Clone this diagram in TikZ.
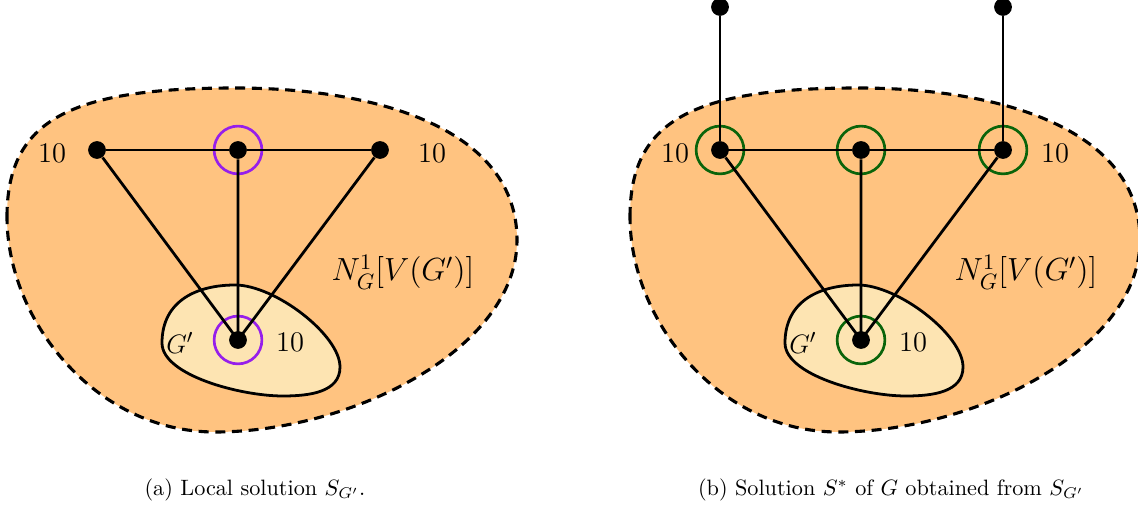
\documentclass[tikz,border=0pt]{standalone}
\usepackage{amsmath,amssymb}
\definecolor{nbhd}{RGB}{255,195,128}
\definecolor{subg}{RGB}{253,228,178}
\definecolor{solpurple}{RGB}{150,30,235}
\definecolor{solgreen}{RGB}{10,100,10}
\newcommand{\outerblob}{(7,217) .. controls (7,120) and (70,88) .. (235,88)
  .. controls (380,88) and (517,130) .. (517,240)
  .. controls (517,350) and (350,432) .. (215,432)
  .. controls (95,432) and (7,320) .. cycle}
\newcommand{\innerblob}{(235,285) .. controls (275,285) and (340,335) .. (340,367)
  .. controls (340,392) and (310,396) .. (283,396)
  .. controls (240,396) and (162,375) .. (162,343)
  .. controls (162,300) and (198,285) .. cycle}

\begin{document}
\begin{tikzpicture}[x=0.45pt,y=-0.45pt,
  vert/.style={circle,fill=black,inner sep=0pt,minimum size=8pt},
  ring/.style={circle,draw,line width=1.2pt,inner sep=0pt,minimum size=21.5pt},
  edge/.style={line width=1.25pt},
  wt/.style={font=\fontsize{12.8}{15}\selectfont,inner sep=0pt},
  setlabel/.style={font=\fontsize{14}{17}\selectfont,inner sep=0pt}]
\useasboundingbox (0,0) rectangle (1138,509);

% (a) local solution
\begin{scope}
\draw[fill=nbhd,line width=1.4pt,dash pattern=on 4.5pt off 3pt] \outerblob;
\draw[fill=subg,line width=1.25pt] \innerblob;
\node[ring,solpurple] (aMr) at (238,150) {};
\node[ring,solpurple] (aGr) at (238,340) {};
\node[vert] (aL) at (97,150) {};
\node[vert] (aM) at (238,150) {};
\node[vert] (aR) at (380,150) {};
\node[vert] (aG) at (238,340) {};
\draw[edge] (aL) -- (aM) -- (aR);
\draw[edge] (aL) -- (aG.center) (aM) -- (aG.center) (aR) -- (aG.center);
\node[wt] (aLw) at (52,153) {10};
\node[wt] (aRw) at (432,153) {10};
\node[wt] (aGw) at (290,342) {10};
\node[wt] (aGl) at (180,343) {$G'$};
\node[setlabel] (aN) at (403,272) {$N_G^1[V(G')]$};
\node (acap) at (255,490) {(a) Local solution $S_{G'}$.};
\end{scope}

% (b) solution of G
\begin{scope}[shift={(623,0)}]
\draw[fill=nbhd,line width=1.4pt,dash pattern=on 4.5pt off 3pt] \outerblob;
\draw[fill=subg,line width=1.25pt] \innerblob;
\node[ring,solgreen] (bLr) at (97,150) {};
\node[ring,solgreen] (bMr) at (238,150) {};
\node[ring,solgreen] (bRr) at (380,150) {};
\node[ring,solgreen] (bGr) at (238,340) {};
\node[vert] (bL) at (97,150) {};
\node[vert] (bM) at (238,150) {};
\node[vert] (bR) at (380,150) {};
\node[vert] (bG) at (238,340) {};
\node[vert] (bLt) at (97,7) {};
\node[vert] (bRt) at (380,7) {};
\draw[edge] (bL) -- (bM) -- (bR);
\draw[edge] (bL) -- (bG.center) (bM) -- (bG.center) (bR) -- (bG.center);
\draw[edge] (bLt) -- (bL) (bRt) -- (bR);
\node[wt] (bLw) at (52,153) {10};
\node[wt] (bRw) at (432,153) {10};
\node[wt] (bGw) at (290,342) {10};
\node[wt] (bGl) at (180,343) {$G'$};
\node[setlabel] (bN) at (403,272) {$N_G^1[V(G')]$};
\node (bcap) at (268,490) {(b) Solution $S^*$ of $G$ obtained from $S_{G'}$};
\end{scope}
\end{tikzpicture}
\end{document}
